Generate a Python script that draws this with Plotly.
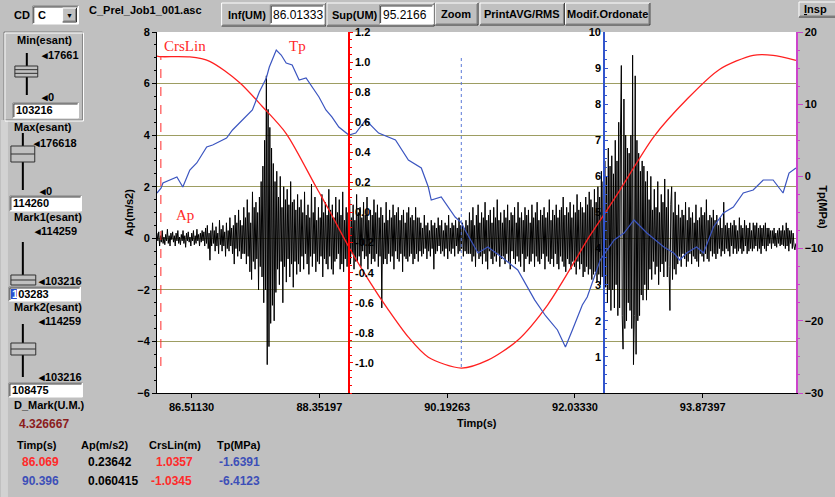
import plotly.graph_objects as go

# ---------------- data ----------------
T_INF = 86.01333
T_SUP = 95.2166
AP_DT = 0.0125  # sampling step of the Ap record (s)

ap_values = [
    # 86.01 - 86.71
    0.2, -0.1, 0.25, -0.3, 0.1, -0.15, 0.3, -0.2, 0.05, -0.25,
    0.15, -0.1, 0.35, -0.2, 0.1, -0.3, 0.2, -0.05, 0.25, -0.15,
    0.1, -0.3, 0.2, -0.1, 0.3, -0.2, 0.05, -0.25, 0.15, -0.1,
    0.3, -0.2, 0.1, -0.35, 0.2, -0.1, 0.25, -0.15, 0.05, -0.3,
    0.2, -0.1, 0.3, -0.25, 0.1, -0.2, 0.35, -0.1, 0.15, -0.3,
    0.2, -0.15, 0.3, -0.1, 0.25, -0.3,
    # 86.71 - 87.26
    0.4, -0.2, 0.5, -0.4, 0.2, -0.85, 0.3, -0.3, 0.6, -0.2,
    0.3, -0.5, 0.45, -0.3, 0.2, -0.6, 0.7, -0.25, 0.35, -0.5,
    0.5, -0.3, 0.25, -0.7, 0.6, -0.4, 0.3, -0.5, 0.8, -0.3,
    0.4, -0.6, 0.5, -1.0, 0.9, -0.4, 0.6, -0.7, 1.1, -0.5,
    0.7, -0.8, 0.5, -0.6,
    # 87.26 - 87.51
    1.2, -0.6, 0.8, -1.0, 1.5, -0.7, 1.0, -1.3, 0.6, -1.6,
    1.8, -0.9, 1.2, -1.2, 1.4, -0.8, 1.0, -2.0, 1.6, -1.1,
    # 87.51 - 87.74 (first burst)
    2.2, -1.5, 2.8, -2.5, 3.8, -2.0, 6.3, -4.9, 5.0, -4.2,
    4.3, -3.3, 3.5, -2.6, 2.9, -3.2, 2.2, -2.1,
    # 87.74 - 88.09
    2.6, -1.2, 1.6, -1.8, 2.4, -0.9, 1.2, -2.5, 2.0, -1.1,
    1.5, -1.7, 1.9, -0.8, 1.3, -1.5, 2.2, -1.0, 1.4, -1.9,
    1.5, -0.9, 1.1, -1.4, 1.7, -1.0, 1.2, -1.3,
    # 88.09 - 88.79
    1.5, -0.7, 1.0, -1.2, 1.8, -0.6, 0.9, -1.0, 1.3, -1.4,
    0.8, -0.7, 2.1, -1.1, 1.0, -0.6, 1.6, -1.3, 0.7, -0.9,
    1.2, -1.0, 0.8, -0.7, 1.7, -1.5, 1.0, -0.8, 1.4, -1.0,
    0.9, -1.2, 1.9, -0.7, 1.1, -1.2, 1.3, -1.4, 0.8, -0.9,
    1.6, -0.8, 1.0, -0.6, 1.5, -1.2, 0.9, -1.0, 1.8, -1.3,
    0.7, -0.8, 1.2, -1.1, 1.0, -0.9,
    # 88.79 - 89.79
    1.5, -1.0, 0.8, -0.6, 1.3, -1.2, 0.7, -0.9, 1.7, -0.9,
    1.0, -0.7, 1.2, -1.1, 0.8, -0.5, 1.4, -0.8, 0.9, -0.7,
    1.6, -1.2, 0.7, -0.6, 1.1, -1.0, 0.9, -0.8, 1.5, -0.9,
    1.0, -0.6, 1.3, -1.1, 0.8, -0.7, 1.2, -2.7, 0.9, -1.0,
    0.6, -0.8, 1.4, -1.0, 0.7, -0.6, 1.1, -0.9, 0.8, -0.7,
    1.3, -1.2, 0.9, -0.5, 1.0, -0.8, 1.2, -0.9, 0.7, -0.6,
    0.9, -1.3, 1.1, -0.7, 0.6, -0.8, 1.0, -0.9, 1.2, -0.7,
    0.8, -0.6, 0.9, -1.0, 0.7, -0.8, 1.2, -0.6, 0.8, -0.9,
    # 89.79 - 90.51
    0.8, -0.5, 0.6, -0.7, 0.4, -0.6, 0.9, -0.4, 0.5, -0.8,
    0.6, -0.5, 0.3, -0.7, 0.7, -0.4, 0.5, -1.2, 0.6, -0.6,
    0.4, -0.5, 0.8, -0.3, 0.5, -0.6, 0.7, -0.5, 0.3, -0.7,
    0.6, -0.4, 0.5, -0.8, 0.9, -0.5, 0.4, -0.6, 0.6, -0.4,
    0.5, -0.7, 0.7, -0.3, 0.4, -0.6, 0.8, -0.5, 0.5, -0.4,
    0.6, -0.7, 0.4, -0.5, 0.7, -0.6, 0.5, -0.6,
    # 90.51 - 92.36
    1.0, -0.6, 0.7, -0.9, 1.2, -0.7, 0.5, -1.1, 0.9, -0.5,
    1.3, -0.8, 0.6, -0.7, 1.0, -1.0, 0.8, -0.6, 1.4, -0.9,
    0.7, -1.2, 0.9, -0.5, 1.1, -0.8, 0.6, -1.0, 1.2, -0.7,
    0.8, -0.9, 1.5, -0.6, 0.7, -1.1, 1.0, -0.8, 0.6, -0.7,
    1.1, -1.0, 0.8, -0.6, 1.3, -0.9, 0.7, -1.2, 1.0, -0.5,
    0.9, -0.8, 1.2, -1.0, 0.6, -0.7, 1.4, -0.9, 0.8, -1.1,
    1.0, -0.6, 0.7, -1.3, 1.2, -0.8, 0.9, -0.7, 1.1, -1.0,
    0.6, -0.9, 1.3, -0.6, 0.8, -1.1, 1.0, -0.7, 1.4, -0.9,
    0.7, -1.0, 1.1, -0.8, 0.9, -0.6, 1.2, -1.2, 0.8, -0.7,
    1.0, -0.9, 1.5, -1.0, 0.7, -0.8, 1.1, -1.1, 0.9, -0.6,
    1.3, -1.0, 0.8, -1.2, 1.1, -0.7, 1.2, -0.9, 1.6, -1.1,
    0.9, -1.3, 1.2, -0.8, 1.0, -1.0, 1.4, -1.2, 0.8, -0.9,
    1.3, -1.1, 1.0, -1.4, 1.7, -0.9, 1.1, -1.2, 1.4, -1.0,
    1.2, -1.5, 1.0, -1.3, 1.6, -1.1, 1.3, -1.4, 1.8, -1.2,
    1.5, -1.6, 1.2, -1.4, 1.9, -1.3, 1.4, -1.7,
    # 92.36 - 92.56
    2.0, -1.4, 1.6, -1.8, 2.6, -1.5, 2.2, -2.2, 3.0, -1.9,
    2.4, -2.5, 3.5, -2.0, 2.8, -2.8,
    # 92.56 - 93.09 (second burst)
    3.2, -2.0, 2.5, -2.7, 3.8, -1.8, 3.0, -3.0, 4.5, -2.7,
    4.0, 6.7, -3.0, -4.3, 5.4, -3.5, 4.0, -3.2, 3.5, -2.5,
    3.3, -2.8, 4.0, -3.5, 7.1, -4.9, -3.0, 6.3, -4.5, 3.8,
    -3.2, 3.3, -3.0, 2.6, -2.2, 3.0, -2.4, 2.8, -1.8, 2.2,
    -2.4, 2.6,
    # 93.09 - 93.51
    -2.0, 1.5, -1.2, 2.4, -1.6, 1.1, -0.9, 1.9, -1.4, 1.2,
    -1.1, 2.2, -1.8, 1.0, -1.3, 1.7, -1.0, 1.4, -1.5, 2.3,
    -0.9, 1.2, -1.5, 1.9, -1.1, -2.8, 1.3, 2.0, -1.6, 1.0,
    -1.2, 1.8, -1.4, 0.9,
    # 93.51 - 94.09
    -1.0, 1.3, -0.7, 0.8, -1.1, 1.1, -0.6, 0.9, -0.8, 1.4,
    -1.1, 0.7, -0.9, 1.2, -0.6, 0.8, -1.0, 1.0, -0.7, 0.6,
    -0.8, 1.3, -0.9, 0.7, -1.1, 0.8, -0.6, 1.2, -0.7, 0.9,
    -0.9, 1.0, -0.6, 1.5, -0.8, 0.7, -0.9, 0.9, -0.5, 0.8,
    -0.7, 1.1, -0.6, 0.7, -0.8, 0.9,
    # 94.09 - 94.81
    -0.6, 0.5, -0.4, 0.8, -0.7, 0.4, -0.5, 1.4, -0.6, 0.5,
    -0.4, 0.6, -0.5, 0.4, -0.7, 0.6, -0.3, 0.5, -0.6, 0.7,
    -0.4, 0.5, -0.6, 0.3, -0.5, 0.8, -0.4, 0.5, -0.6, 0.4,
    -0.5, 0.7, -0.3, 0.5, -0.6, 0.4, -0.5, 0.6, -0.4, 0.3,
    -0.5, 0.6, -0.4, 0.5, -0.3, 0.6, -0.5, 0.4, -0.4, 0.5,
    -0.6, 0.4, -0.3, 0.5, -0.4, 0.6, -0.5, 0.4,
    # 94.81 - 95.21
    -0.3, 0.4, -0.2, 0.3, -0.4, 0.3, -0.2, 0.4, -0.3, 0.2,
    -0.35, 0.3, -0.2, 0.4, -0.3, 0.3, -0.25, 0.5, -0.3, 0.3,
    -0.4, 0.6, -0.3, 0.4, -0.5, 0.3, -0.2, 0.3, -0.4, 0.2,
    -0.3, -0.45, -0.2,
]
ap_time = [T_INF + AP_DT * i for i in range(len(ap_values))]

crs_time = [86.013, 86.070, 86.486, 86.772, 87.201, 87.530, 87.874, 88.303, 88.489, 88.776,
            89.062, 89.348, 89.634, 89.921, 90.396, 90.779, 91.209, 91.638, 92.067, 92.210,
            92.497, 92.683, 93.170, 93.642, 94.114, 94.600, 94.887, 95.216]
crs_values = [1.040, 1.036, 1.034, 1.005, 0.865, 0.705, 0.525, 0.171, 0.018, -0.229,
              -0.449, -0.649, -0.829, -0.962, -1.034, -0.982, -0.849, -0.615, -0.295, -0.182,
              0.018, 0.151, 0.505, 0.751, 0.951, 1.045, 1.045, 1.011]

tp_time = [86.013, 86.071, 86.099, 86.300, 86.385, 86.486, 86.586, 86.729, 86.815, 87.015,
           87.101, 87.201, 87.387, 87.487, 87.588, 87.631, 87.731, 87.802, 87.874, 87.960,
           88.060, 88.160, 88.246, 88.346, 88.446, 88.532, 88.632, 88.776, 88.876, 89.019,
           89.205, 89.448, 89.634, 89.820, 89.921, 89.963, 90.107, 90.307, 90.396, 90.450,
           90.636, 90.779, 90.994, 91.209, 91.452, 91.609, 91.781, 91.896, 91.996, 92.139,
           92.210, 92.397, 92.597, 92.740, 92.883, 93.069, 93.313, 93.456, 93.542, 93.642,
           93.785, 93.885, 94.028, 94.171, 94.314, 94.457, 94.600, 94.744, 94.887, 95.030,
           95.116, 95.216]
tp_values = [-2.30, -1.64, -0.91, -0.08, -1.47, 0.89, 1.86, 4.07, 4.35, 5.32,
             6.43, 7.40, 9.20, 11.69, 13.63, 15.15, 17.51, 16.81, 15.71, 15.43,
             13.35, 13.63, 12.38, 11.00, 9.20, 8.23, 6.84, 5.73, 6.00, 7.81,
             6.00, 5.04, 2.27, 1.16, -1.47, -3.27, -2.85, -5.62, -6.41, -7.42,
             -10.61, -9.78, -11.30, -12.96, -17.10, -19.30, -21.27, -23.63, -21.27, -17.81,
             -16.70, -11.58, -8.81, -7.84, -6.04, -7.84, -9.78, -10.61, -11.58, -10.61,
             -9.78, -10.61, -7.00, -5.07, -4.24, -2.30, -1.88, -0.50, -0.50, -2.30,
             0.47, 1.16]

x_tickvals = [86.51130, 88.35197, 90.19263, 92.03330, 93.87397]
x_ticktext = ["86.51130", "88.35197", "90.19263", "92.03330", "93.87397"]
ap_ticks = [-6, -4, -2, 0, 2, 4, 6, 8]
crs_ticks = [-1.0, -0.8, -0.6, -0.4, -0.2, 0.0, 0.2, 0.4, 0.6, 0.8, 1.0, 1.2]
aux_ticks = [1, 2, 3, 4, 5, 6, 7, 8, 9, 10]
tp_ticks = [-30, -20, -10, 0, 10, 20]

mark1_time = 86.069
mark2_time = 90.396
d_mark = "4.326667"
table_header = ["Timp(s)", "Ap(m/s2)", "CrsLin(m)", "Tp(MPa)"]
table_row1 = ["86.069", "0.23642", "1.0357", "-1.6391"]
table_row2 = ["90.396", "0.060415", "-1.0345", "-6.4123"]

# ---------------- layout helpers ----------------
W, H = 835, 497
ML, MR, MT, MB = 157, 35, 32, 104
PW, PH = W - ML - MR, H - MT - MB


def px(x):
    return (x - ML) / PW


def py(y):
    return (H - MB - y) / PH


GRAY = "#c0c0c0"
UI = "Liberation Sans"
RED = "#ff2a2a"
BLUE = "#3d4fb8"
OLIVE = "#9d9d62"
shapes = []
annotations = []


def rect(x0, y0, x1, y1, fill, line=None, lw=1):
    shapes.append(dict(type="rect", xref="paper", yref="paper", x0=px(x0), x1=px(x1),
                       y0=py(y1), y1=py(y0), fillcolor=fill,
                       line=dict(color=line if line else fill, width=lw if line else 0)))


def seg(x0, y0, x1, y1, color, w=1, dash="solid"):
    shapes.append(dict(type="line", xref="paper", yref="paper", x0=px(x0), x1=px(x1),
                       y0=py(y0), y1=py(y1), line=dict(color=color, width=w, dash=dash)))


def raised(x0, y0, x1, y1):
    rect(x0, y0, x1, y1, GRAY)
    seg(x0, y0, x1, y0, "white")
    seg(x0, y0, x0, y1, "white")
    seg(x0, y1, x1, y1, "#303030")
    seg(x1, y0, x1, y1, "#303030")
    seg(x0 + 1, y1 - 1, x1 - 1, y1 - 1, "#808080")
    seg(x1 - 1, y0 + 1, x1 - 1, y1 - 1, "#808080")


def sunken(x0, y0, x1, y1, fill="white"):
    rect(x0, y0, x1, y1, fill)
    seg(x0, y0, x1, y0, "#808080")
    seg(x0, y0, x0, y1, "#808080")
    seg(x0 + 1, y0 + 1, x1 - 1, y0 + 1, "#404040")
    seg(x0 + 1, y0 + 1, x0 + 1, y1 - 1, "#404040")
    seg(x0, y1, x1, y1, "white")
    seg(x1, y0, x1, y1, "white")


def label(x, y, s, size=11, color="black", bold=True, anchor="left", family=UI, angle=0):
    annotations.append(dict(xref="paper", yref="paper", x=px(x), y=py(y),
                            text=f"<b>{s}</b>" if bold else s, showarrow=False,
                            xanchor=anchor, yanchor="middle", borderpad=0,
                            font=dict(size=size, color=color, family=family), textangle=angle))


def slider(xc, y0, y1, tx0, tx1, ty0, ty1, bands=1):
    seg(xc, y0, xc, y1, "black", 2)
    rect(tx0, ty0, tx1, ty1, GRAY, "#303030", 1)
    for k in range(1, bands + 1):
        yy = ty0 + (ty1 - ty0) * k / (bands + 1)
        seg(tx0, yy, tx1, yy, "#303030")


# ---------------- toolbar ----------------
label(12, 15, "CD")
sunken(32, 6, 78, 24)
label(36, 15, "C")
raised(62, 8, 76, 22)
label(69, 16, "▼", size=7, anchor="center")
label(88, 10, "C_Prel_Job1_001.asc")
raised(222, 3, 327, 26)
label(227, 15, "Inf(UM)")
sunken(271, 5, 325, 24)
label(273, 15, "86.01333", bold=False, size=12)
raised(328, 3, 436, 26)
label(332, 15, "Sup(UM)")
sunken(381, 5, 435, 24)
label(383, 15, "95.2166", bold=False, size=12)
raised(437, 3, 480, 25)
label(458, 14, "Zoom", anchor="center")
raised(482, 3, 567, 25)
label(524, 14, "PrintAVG/RMS", anchor="center")
raised(568, 3, 653, 25)
label(610, 14, "Modif.Ordonate", anchor="center")
raised(803, 2, 845, 17)
label(807, 9, "<u>I</u>nsp")

# ---------------- left panel ----------------
rect(0, 120, 7, 497, "#d2d2d2")
shapes.append(dict(type="rect", xref="paper", yref="paper", x0=px(3), x1=px(82), y0=py(120), y1=py(32),
                   line=dict(color="#808080", width=1)))
shapes.append(dict(type="rect", xref="paper", yref="paper", x0=px(4), x1=px(83), y0=py(121), y1=py(33),
                   line=dict(color="white", width=1)))
label(15, 40, "Min(esant)")
slider(26, 53, 95, 14, 37, 66, 77, bands=2)
label(39, 55, "◂17661")
label(39, 97, "◂0")
sunken(12, 103, 78, 118)
label(14, 110, "103216")

label(12, 127, "Max(esant)")
slider(22, 133, 190, 10, 34, 146, 162)
label(31, 143, "◂176618")
label(37, 191, "◂0")
sunken(9, 196, 81, 211)
label(11, 203, "114260")

label(12, 217, "Mark1(esant)")
label(32, 231, "◂114259")
slider(22, 242, 280, 10, 35, 275, 285)
label(36, 281, "◂103216")
sunken(8, 287, 80, 301)
rect(10, 289, 16, 299, "#2a4fd0")
label(10, 294, "<span style='color:white'>1</span>03283")

label(12, 307, "Mark2(esant)")
label(36, 321, "◂114259")
slider(22, 324, 377, 10, 35, 343, 355)
label(36, 377, "◂103216")
sunken(8, 383, 82, 397)
label(10, 390, "108475")
label(12, 405, "D_Mark(U.M.)")
label(17, 424, d_mark, size=12, color="#8b1c1c")

# value table
col_x = [15, 80, 148, 216]
for cx, s in zip(col_x, table_header):
    label(cx, 445, s)
row1_colors = [RED, "black", RED, BLUE]
row1_x = [20, 87, 155, 218]
for cx, s, c in zip(row1_x, table_row1, row1_colors):
    label(cx, 462, s, size=12, color=c)
row2_colors = [BLUE, "black", RED, BLUE]
row2_x = [20, 87, 150, 218]
for cx, s, c in zip(row2_x, table_row2, row2_colors):
    label(cx, 481, s, size=12, color=c)

# ---------------- chart labels ----------------
label(163, 46, "CrsLin", size=15, color=RED, bold=False, family="Liberation Serif")
label(289, 46, "Tp", size=15, color=RED, bold=False, family="Liberation Serif")
label(175, 215, "Ap", size=15, color=RED, bold=False, family="Liberation Serif")
label(129, 213, "Ap(m/s2)", anchor="center", angle=-90)
label(479, 423, "Timp(s)", anchor="center")
label(827, 207, "Tp(MPa)", anchor="center", angle=90)

# markers
shapes.append(dict(type="line", xref="x", yref="paper", x0=mark1_time, x1=mark1_time,
                   y0=py(366), y1=py(56), line=dict(color=RED, width=1, dash="dash")))
shapes.append(dict(type="line", xref="x", yref="paper", x0=mark2_time, x1=mark2_time,
                   y0=py(367), y1=py(55), line=dict(color="#5a78d8", width=1, dash="dot")))

# ---------------- figure ----------------
tickfont = dict(family=UI, size=11, color="black", weight="bold")
fig = go.Figure()
fig.add_trace(go.Scatter(x=ap_time, y=ap_values, mode="lines", yaxis="y",
                         line=dict(color="black", width=1), hoverinfo="skip", showlegend=False))
fig.add_trace(go.Scatter(x=crs_time, y=crs_values, mode="lines", yaxis="y2",
                         line=dict(color="#ff2020", width=1.3, shape="spline", smoothing=0.8),
                         hoverinfo="skip", showlegend=False))
fig.add_trace(go.Scatter(x=[T_INF], y=[None], mode="lines", yaxis="y3", showlegend=False, hoverinfo="skip"))
fig.add_trace(go.Scatter(x=tp_time, y=tp_values, mode="lines", yaxis="y4",
                         line=dict(color="#3b55c0", width=1.2), hoverinfo="skip", showlegend=False))

fig.update_layout(
    width=W, height=H,
    margin=dict(l=ML, r=MR, t=MT, b=MB, pad=0),
    paper_bgcolor=GRAY, plot_bgcolor="white",
    showlegend=False, hovermode=False,
    xaxis=dict(range=[T_INF, T_SUP], tickvals=x_tickvals, ticktext=x_ticktext,
               showline=True, linecolor="black", linewidth=1, ticks="outside", ticklen=4,
               tickcolor="black", showgrid=False, zeroline=False, tickfont=tickfont),
    yaxis=dict(range=[-6, 8], tickvals=ap_ticks, showline=True, linecolor="black", linewidth=1,
               ticks="outside", ticklen=4, tickcolor="black", showgrid=True, gridcolor=OLIVE,
               gridwidth=1, zeroline=False, tickfont=tickfont,
               minor=dict(ticks="outside", ticklen=2, dtick=0.5, tickcolor="black")),
    yaxis2=dict(overlaying="y", anchor="free", position=px(350), side="right", range=[-1.2, 1.2],
                tickvals=crs_ticks, ticktext=[f"{v:.1f}" for v in crs_ticks],
                showline=True, linecolor="#ff0000", linewidth=2, ticks="outside", ticklen=3,
                tickcolor="#ff0000", showgrid=False, zeroline=False, tickfont=tickfont,
                minor=dict(ticks="outside", ticklen=2, dtick=0.05, tickcolor="#ff0000")),
    yaxis3=dict(overlaying="y", anchor="free", position=px(607), side="left", range=[0, 10],
                tickvals=aux_ticks, showline=True, linecolor="#3355cc", linewidth=2,
                ticks="inside", ticklen=3, tickcolor="#3355cc", showgrid=False, zeroline=False,
                tickfont=tickfont,
                minor=dict(ticks="inside", ticklen=2, dtick=0.25, tickcolor="#3355cc")),
    yaxis4=dict(overlaying="y", anchor="x", side="right", range=[-30, 20], tickvals=tp_ticks,
                showline=True, linecolor="#cc44cc", linewidth=1.5, ticks="outside", ticklen=5,
                tickcolor="#cc44cc", showgrid=False, zeroline=False, tickfont=tickfont,
                minor=dict(ticks="outside", ticklen=2, dtick=2.5, tickcolor="#cc44cc")),
    shapes=shapes,
    annotations=annotations,
)

fig.write_html(
    "out.html",
    config={"displayModeBar": False, "staticPlot": True},
    post_script="document.body.style.margin='0px';document.body.style.background='#c0c0c0';",
)
